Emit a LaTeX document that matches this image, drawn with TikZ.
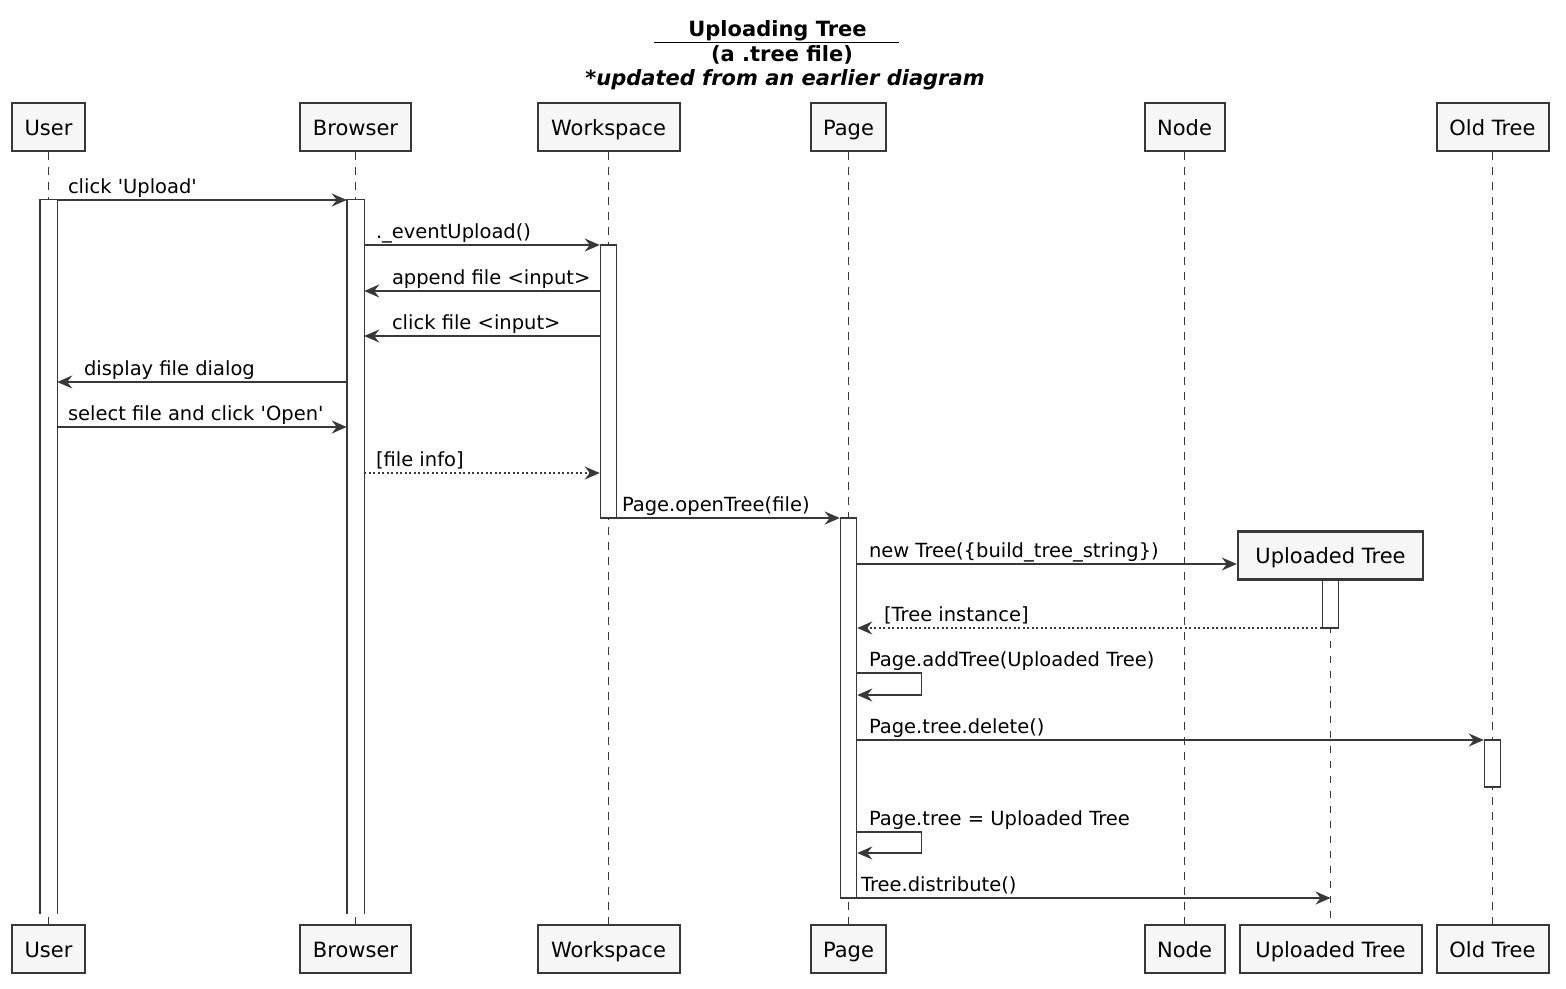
\documentclass[tikz,border=0pt]{standalone}
\usepackage{fontspec}
\setmainfont{DejaVu Sans}
\usetikzlibrary{arrows.meta}
\definecolor{linec}{HTML}{383838}
\definecolor{boxfill}{HTML}{F6F6F6}

\begin{document}
\begin{tikzpicture}[x=1pt, y=-1pt,
        part/.style={draw=linec, line width=2pt, fill=boxfill, minimum height=48pt, inner sep=0pt,
            text height=16pt, text depth=0pt, font=\fontsize{21}{25}\selectfont},
        act/.style={draw=linec, line width=1.5pt, fill=white, minimum width=16pt, inner sep=0pt},
        bar/.style={draw=linec, line width=1.5pt},
        life/.style={draw=linec, line width=1.5pt, dash pattern=on 7.5pt off 7.5pt},
        msg/.style={draw=linec, line width=1.5pt, -{Stealth[length=15pt, width=13pt, inset=5pt]}},
        reply/.style={msg, dash pattern=on 2pt off 2.5pt},
        lbl/.style={anchor=base west, inner sep=0pt, yshift=7pt, font=\fontsize{19.5}{23}\selectfont}]
        \useasboundingbox (0, 0) rectangle (1566, 988);

        \node [anchor=base, font=\bfseries\fontsize{21}{25}\selectfont] (title) at (776.5, 36)
            {\underline{\hspace*{34pt}Uploading Tree\hspace*{32pt}}};
        \node [anchor=base, font=\bfseries\fontsize{21}{25}\selectfont] (subtitle) at (782, 61) {(a .tree file)};
        \node [anchor=base, font=\bfseries\itshape\fontsize{21}{25}\selectfont] (note) at (785, 85)
            {*updated from an earlier diagram};

        \node [part, minimum width=73pt] (user) at (48.5, 127) {User};
        \node [part, minimum width=111pt] (browser) at (355.5, 127) {Browser};
        \node [part, minimum width=142pt] (workspace) at (608.5, 127) {Workspace};
        \node [part, minimum width=75pt] (page) at (848.5, 127) {Page};
        \node [part, minimum width=80pt] (treenode) at (1184.5, 127) {Node};
        \node [part, minimum width=112pt] (oldtree) at (1492.5, 127) {Old Tree};
        \node [part, minimum width=185pt, line width=2.4pt] (uploaded) at (1330.5, 555.5) {Uploaded Tree};

        \node [part, minimum width=73pt] (user-b) at (48.5, 949) {User};
        \node [part, minimum width=111pt] (browser-b) at (355.5, 949) {Browser};
        \node [part, minimum width=142pt] (workspace-b) at (608.5, 949) {Workspace};
        \node [part, minimum width=75pt] (page-b) at (848.5, 949) {Page};
        \node [part, minimum width=80pt] (treenode-b) at (1184.5, 949) {Node};
        \node [part, minimum width=182pt] (uploaded-b) at (1330.5, 949) {Uploaded Tree};
        \node [part, minimum width=112pt] (oldtree-b) at (1492.5, 949) {Old Tree};

        \foreach \p in {user, browser, workspace, page, treenode, uploaded, oldtree}
            \draw [life] (\p.south) -- (\p-b.north);

        \node [act, draw=none, minimum height=713pt] (user-act) at (48.5, 556.5) {};
        \node [act, draw=none, minimum height=713pt] (browser-act) at (355.5, 556.5) {};
        \foreach \p in {user-act, browser-act}
            \draw [bar] (\p.south west) |- (\p.north east) -- (\p.south east);
        \node [act, minimum height=273pt] (workspace-act) at (608.5, 381.5) {};
        \node [act, minimum height=380pt] (page-act) at (848.5, 708) {};
        \node [act, minimum height=48pt] (uploaded-act) at (1330.5, 604) {};
        \node [act, minimum height=47pt] (oldtree-act) at (1492.5, 763.5) {};

        \draw [msg] (user-act.east |- 0,200) node [lbl, xshift=10pt] {click \textquotesingle Upload\textquotesingle}
            -- (browser-act.west |- 0,200);
        \draw [msg] (browser-act.east |- 0,245) node [lbl, xshift=11pt] {.\_eventUpload()}
            -- (workspace-act.west |- 0,245);
        \draw [msg] (workspace-act.west |- 0,291) -- (browser-act.east |- 0,291)
            node [lbl, xshift=27pt] {append file <input>};
        \draw [msg] (workspace-act.west |- 0,336) -- (browser-act.east |- 0,336)
            node [lbl, xshift=27pt] {click file <input>};
        \draw [msg] (browser-act.west |- 0,382) -- (user-act.east |- 0,382)
            node [lbl, xshift=26pt] {display file dialog};
        \draw [msg] (user-act.east |- 0,427) node [lbl, xshift=10pt] {select file and click \textquotesingle Open\textquotesingle}
            -- (browser-act.west |- 0,427);
        \draw [reply] (browser-act.east |- 0,473) node [lbl, xshift=11pt] {[file info]}
            -- (workspace-act.west |- 0,473);
        \draw [msg] (workspace-act.east |- 0,518) node [lbl, xshift=4pt] {Page.openTree(file)}
            -- (page-act.west |- 0,518);
        \draw [msg] (page-act.east |- 0,564) node [lbl, xshift=11pt] {new Tree(\{build\_tree\_string\})}
            -- (uploaded.west |- 0,564);
        \draw [reply] (uploaded-act.west |- 0,628) -- (page-act.east |- 0,628)
            node [lbl, xshift=26pt] {[Tree instance]};
        \draw [msg] (page-act.east |- 0,673) node [lbl, xshift=11pt] {Page.addTree(Uploaded Tree)}
            -- ++(64, 0) -- ++(0, 22) -- (page-act.east |- 0,695);
        \draw [msg] (page-act.east |- 0,740) node [lbl, xshift=11pt] {Page.tree.delete()}
            -- (oldtree-act.west |- 0,740);
        \draw [msg] (page-act.east |- 0,832) node [lbl, xshift=11pt] {Page.tree = Uploaded Tree}
            -- ++(64, 0) -- ++(0, 21) -- (page-act.east |- 0,853);
        \draw [msg] (page-act.east |- 0,898) node [lbl, xshift=3pt] {Tree.distribute()}
            -- (uploaded |- 0,898);
    \end{tikzpicture}
\end{document}
